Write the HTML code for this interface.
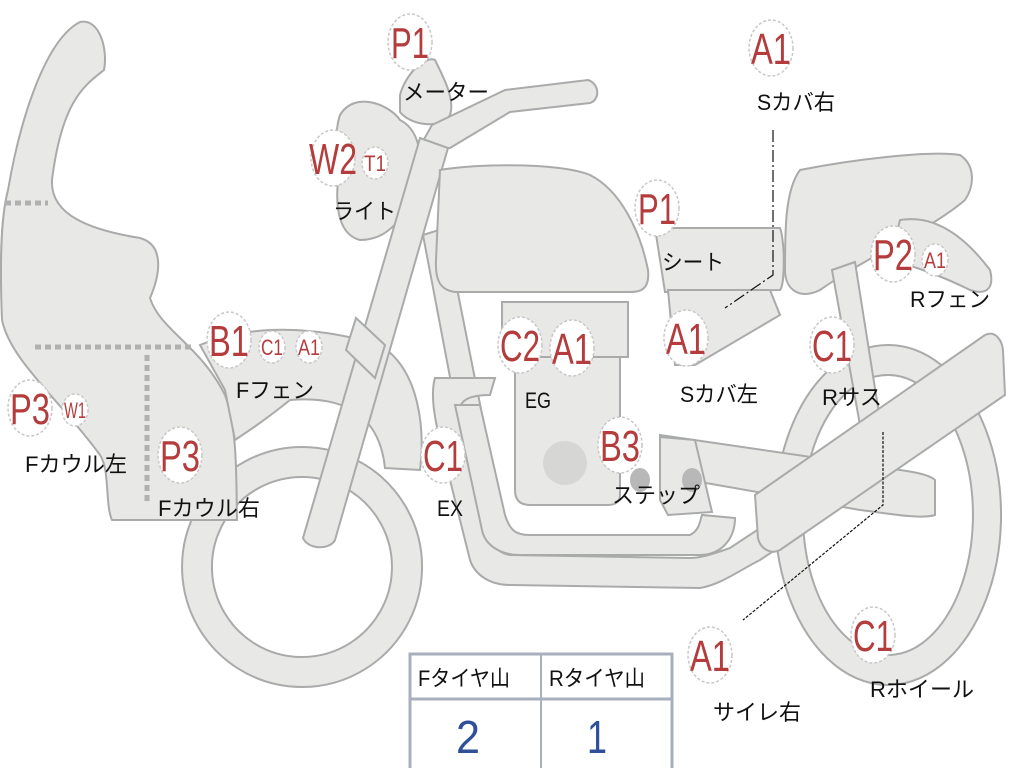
<!DOCTYPE html>
<html><head><meta charset="utf-8"><style>
html,body{margin:0;padding:0;background:#fff;}
svg{display:block}
.s{fill:#e8e8e6;stroke:#a9abab;stroke-width:2}
.c{fill:#fff;stroke:#c8c8c8;stroke-width:1.5;stroke-dasharray:3 2}
.r{fill:#b53c3c;font-family:"Liberation Sans","Noto Sans CJK JP",sans-serif;}
.k{fill:#111;font-family:"Liberation Sans","Noto Sans CJK JP",sans-serif;font-size:22px}
</style></head><body>
<svg width="1024" height="768" viewBox="0 0 1024 768" xmlns="http://www.w3.org/2000/svg">
<!-- front wheel -->
<path class="s" fill-rule="evenodd" d="M302,447 a120,120 0 1,0 0.1,0 Z M302,477 a90,90 0 1,1 -0.1,0 Z"/>
<!-- rear wheel -->
<path class="s" fill-rule="evenodd" d="M888,345 a113,170 0 1,0 0.1,0 Z M888,375 a85,140 0 1,1 -0.1,0 Z"/>
<!-- fairing -->
<path class="s" d="M8,190 C20,120 45,40 80,22 C100,18 108,50 104,70 C85,85 62,100 52,180 C50,215 90,230 140,238 C165,245 160,275 150,298 C160,330 200,345 225,395 C238,430 236,480 237,520 L112,520 C105,505 110,470 100,455 C60,400 10,360 2,320 C0,270 0,220 8,190 Z"/>
<!-- front fender -->
<path class="s" d="M200,345 C260,320 330,330 380,345 C420,370 425,430 420,470 L385,468 C380,420 350,395 290,400 C265,420 250,430 235,440 L225,390 Z"/>
<!-- headlight -->
<path class="s" d="M340,115 C355,90 390,105 400,120 C420,130 425,160 415,190 C405,215 390,240 360,240 C340,235 335,210 338,180 C335,155 335,130 340,115 Z"/>
<!-- meter -->
<path class="s" d="M400,95 C405,75 425,55 435,60 C445,80 455,100 450,115 C440,130 410,125 400,112 Z"/>
<!-- frame down tube -->
<path class="s" d="M423,235 L445,228 L505,530 L480,535 Z"/>
<!-- exhaust -->
<path class="s" d="M435,378 C430,395 435,420 440,440 L470,560 C475,575 490,585 510,585 L700,588 C720,585 740,570 760,560 L790,540 L780,515 L730,548 C710,555 700,558 690,558 L510,555 C495,553 490,540 488,525 L460,410 C460,400 470,395 490,395 L495,378 Z"/>
<path class="s" d="M455,405 L480,405 L505,515 C510,530 515,535 530,535 L690,535 C700,530 700,520 702,515 L735,518 C735,540 720,555 700,555 L520,555 C500,555 485,545 482,530 Z"/>
<!-- handlebar -->
<path class="s" d="M418,150 L432,125 L505,90 L588,80 C600,84 600,100 590,103 L510,112 L450,148 Z"/>
<!-- fork -->
<path class="s" d="M420,138 L448,148 L335,540 C330,550 308,550 303,538 Z"/>
<path class="s" d="M356,318 L385,345 L375,378 L346,350 Z"/>
<!-- tank -->
<path class="s" d="M440,170 C480,163 560,163 590,175 C620,190 640,230 648,270 C650,290 640,292 630,292 L455,292 C440,290 435,280 436,260 Z"/>
<!-- seat front part -->
<path class="s" d="M655,228 L780,228 C785,240 785,285 780,290 L665,292 Z"/>
<!-- side cover left -->
<path class="s" d="M668,290 L770,290 L780,315 L695,365 L675,365 Z"/>
<!-- engine -->
<path class="s" d="M515,355 L620,355 L620,495 C620,502 615,505 608,505 L530,505 C520,505 515,500 515,490 Z"/>
<path class="s" d="M502,302 L628,302 L628,357 L502,357 Z"/>
<circle cx="565" cy="463" r="22" fill="#d6d6d4"/>
<!-- seat -->
<path class="s" d="M800,170 C850,160 930,150 960,155 C975,165 975,185 965,200 C930,230 870,255 820,290 C800,300 785,290 785,270 C785,230 785,190 800,170 Z"/>
<!-- rear fender -->
<path class="s" d="M900,220 C930,215 960,230 990,270 C995,290 985,295 970,290 C940,275 910,265 890,260 Z"/>
<!-- rear shock -->
<path class="s" d="M832,270 L855,262 L880,420 L860,425 Z"/>
<!-- swingarm -->
<path class="s" d="M660,435 L900,470 C915,472 930,475 935,480 L935,515 C920,520 880,512 860,510 L660,475 Z"/>
<!-- step plate -->
<path class="s" d="M660,437 L695,440 L712,512 L668,515 L660,500 Z"/>
<ellipse cx="640" cy="480" rx="10" ry="12" fill="#b8b8b8"/>
<ellipse cx="692" cy="480" rx="10" ry="12" fill="#b8b8b8"/>
<!-- silencer -->
<path class="s" d="M755,495 L985,335 C995,330 1002,340 1003,350 L1005,395 L780,550 C770,555 760,548 758,538 Z"/>
<!-- dotted lines -->
<g stroke="#b0b0b0" stroke-width="5" stroke-dasharray="6 4" fill="none">
<path d="M5,203 H48"/><path d="M35,347 H192"/><path d="M147,355 V505"/>
</g>
<!-- leader lines -->
<g stroke="#111" stroke-width="1.2" fill="none">
<path d="M773,130 V275 L725,308" stroke-dasharray="12 3 2 3"/>
<path d="M883,432 V505 L743,620" stroke-dasharray="3 1.5"/>
</g>
<!-- circles -->
<g>
<ellipse class="c" cx="410" cy="42" rx="22" ry="28"/>
<ellipse class="c" cx="771" cy="48" rx="22" ry="28"/>
<ellipse class="c" cx="333" cy="158" rx="22" ry="28"/>
<ellipse class="c" cx="375" cy="163" rx="13" ry="16"/>
<ellipse class="c" cx="657" cy="208" rx="22" ry="28"/>
<ellipse class="c" cx="893" cy="254" rx="22" ry="28"/>
<ellipse class="c" cx="935" cy="260" rx="13" ry="16"/>
<ellipse class="c" cx="229" cy="340" rx="22" ry="28"/>
<ellipse class="c" cx="272" cy="347" rx="13" ry="16"/>
<ellipse class="c" cx="309" cy="347" rx="13" ry="16"/>
<ellipse class="c" cx="520" cy="345" rx="22" ry="28"/>
<ellipse class="c" cx="572" cy="348" rx="22" ry="28"/>
<ellipse class="c" cx="686" cy="338" rx="22" ry="28"/>
<ellipse class="c" cx="832" cy="345" rx="22" ry="28"/>
<ellipse class="c" cx="30" cy="408" rx="22" ry="28"/>
<ellipse class="c" cx="75" cy="410" rx="13" ry="16"/>
<ellipse class="c" cx="180" cy="455" rx="22" ry="28"/>
<ellipse class="c" cx="443" cy="455" rx="22" ry="28"/>
<ellipse class="c" cx="620" cy="445" rx="22" ry="28"/>
<ellipse class="c" cx="710" cy="655" rx="22" ry="28"/>
<ellipse class="c" cx="873" cy="635" rx="22" ry="28"/>
</g>
<g class="r" font-size="44" text-anchor="middle">
<text x="410" y="58" textLength="38" lengthAdjust="spacingAndGlyphs">P1</text>
<text x="771" y="64" textLength="40" lengthAdjust="spacingAndGlyphs">A1</text>
<text x="333" y="174" textLength="48" lengthAdjust="spacingAndGlyphs">W2</text>
<text x="657" y="224" textLength="38" lengthAdjust="spacingAndGlyphs">P1</text>
<text x="893" y="270" textLength="40" lengthAdjust="spacingAndGlyphs">P2</text>
<text x="229" y="356" textLength="40" lengthAdjust="spacingAndGlyphs">B1</text>
<text x="520" y="361" textLength="40" lengthAdjust="spacingAndGlyphs">C2</text>
<text x="572" y="364" textLength="40" lengthAdjust="spacingAndGlyphs">A1</text>
<text x="686" y="354" textLength="40" lengthAdjust="spacingAndGlyphs">A1</text>
<text x="832" y="361" textLength="40" lengthAdjust="spacingAndGlyphs">C1</text>
<text x="30" y="424" textLength="40" lengthAdjust="spacingAndGlyphs">P3</text>
<text x="180" y="471" textLength="40" lengthAdjust="spacingAndGlyphs">P3</text>
<text x="443" y="471" textLength="40" lengthAdjust="spacingAndGlyphs">C1</text>
<text x="620" y="461" textLength="40" lengthAdjust="spacingAndGlyphs">B3</text>
<text x="710" y="671" textLength="40" lengthAdjust="spacingAndGlyphs">A1</text>
<text x="873" y="651" textLength="40" lengthAdjust="spacingAndGlyphs">C1</text>
</g>
<g class="r" font-size="22" text-anchor="middle">
<text x="375" y="171" textLength="22" lengthAdjust="spacingAndGlyphs">T1</text>
<text x="935" y="268" textLength="22" lengthAdjust="spacingAndGlyphs">A1</text>
<text x="272" y="355" textLength="22" lengthAdjust="spacingAndGlyphs">C1</text>
<text x="309" y="355" textLength="22" lengthAdjust="spacingAndGlyphs">A1</text>
<text x="75" y="418" textLength="22" lengthAdjust="spacingAndGlyphs">W1</text>
</g>
<g class="k">
<text x="403" y="100" textLength="86" lengthAdjust="spacingAndGlyphs">メーター</text>
<text x="757" y="110" textLength="78" lengthAdjust="spacingAndGlyphs">Sカバ右</text>
<text x="333" y="219" textLength="63" lengthAdjust="spacingAndGlyphs">ライト</text>
<text x="662" y="270" textLength="62" lengthAdjust="spacingAndGlyphs">シート</text>
<text x="910" y="307" textLength="80" lengthAdjust="spacingAndGlyphs">Rフェン</text>
<text x="236" y="398" textLength="78" lengthAdjust="spacingAndGlyphs">Fフェン</text>
<text x="525" y="408" textLength="26" lengthAdjust="spacingAndGlyphs">EG</text>
<text x="680" y="402" textLength="78" lengthAdjust="spacingAndGlyphs">Sカバ左</text>
<text x="822" y="405" textLength="60" lengthAdjust="spacingAndGlyphs">Rサス</text>
<text x="25" y="472" textLength="102" lengthAdjust="spacingAndGlyphs">Fカウル左</text>
<text x="437" y="516" textLength="26" lengthAdjust="spacingAndGlyphs">EX</text>
<text x="612" y="503" textLength="88" lengthAdjust="spacingAndGlyphs">ステップ</text>
<text x="158" y="516" textLength="102" lengthAdjust="spacingAndGlyphs">Fカウル右</text>
<text x="713" y="720" textLength="88" lengthAdjust="spacingAndGlyphs">サイレ右</text>
<text x="870" y="697" textLength="104" lengthAdjust="spacingAndGlyphs">Rホイール</text>
</g>
<!-- table -->
<g fill="none" stroke="#a8afbd" stroke-width="3">
<rect x="410" y="654" width="262" height="118"/>
<path d="M410,699 H672"/>
<path d="M541,654 V768" stroke-width="2"/>
</g>
<g class="k">
<text x="418" y="686" textLength="92" lengthAdjust="spacingAndGlyphs">Fタイヤ山</text>
<text x="549" y="686" textLength="96" lengthAdjust="spacingAndGlyphs">Rタイヤ山</text>
</g>
<g fill="#2f4f9a" font-family="Liberation Sans,sans-serif" font-size="46" text-anchor="middle">
<text x="468" y="753" textLength="24" lengthAdjust="spacingAndGlyphs">2</text>
<text x="597" y="753" textLength="20" lengthAdjust="spacingAndGlyphs">1</text>
</g>
</svg>
</body></html>
